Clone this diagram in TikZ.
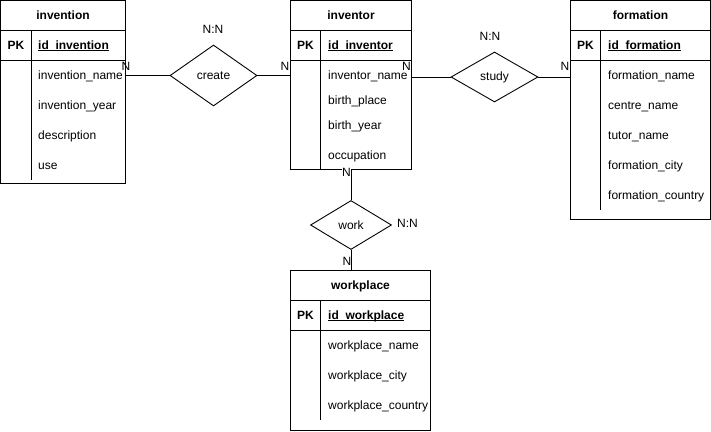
\documentclass[tikz,border=0pt]{standalone}
\usepackage{fontspec}
\setmainfont{Liberation Sans}
\usetikzlibrary{positioning,shapes.geometric}
\newcommand{\keyul}[1]{\setbox0=\hbox{#1}\rlap{\rule[-1.8pt]{\wd0}{0.9pt}}\box0}
\tikzset{
  tframe/.style = {draw=black, line width=0.9pt, inner sep=0pt},
  ttitle/.style = {font=\fontsize{12}{14}\selectfont\bfseries, anchor=base, inner sep=0pt},
  pkey/.style   = {ttitle},
  attr/.style   = {font=\fontsize{12}{14}\selectfont, anchor=base west, inner sep=0pt},
  attrkey/.style = {attr, font=\fontsize{12}{14}\selectfont\bfseries},
  rel/.style    = {diamond, draw=black, line width=0.9pt, inner sep=0pt,
                   font=\fontsize{12}{14}\selectfont},
  card/.style   = {font=\fontsize{12}{14}\selectfont, inner sep=0.5pt},
  rule/.style   = {draw=black, line width=0.9pt},
  link/.style   = {draw=black, line width=0.9pt},
}

\begin{document}
\begin{tikzpicture}[x=1pt, y=-1pt]
  \useasboundingbox (0,0) rectangle (711,431);

    % invention
    \node[tframe, minimum width=125pt, minimum height=183pt] (invention) at (63,92) {};
    \draw[rule] (0.5,30.5) -- (125.5,30.5);
    \draw[rule] (0.5,60.5) -- (125.5,60.5);
    \draw[rule] (31.5,30.5) -- (31.5,180);
    \node[ttitle] (inventiont) at (63,19.3) {invention};
    \node[pkey] (inventionpk) at (16,49.3) {PK};
    \node[attrkey] (invid) at (38,49.3) {\keyul{id\_invention}};
    \node[attr] (invname) at (38,79.3)  {invention\_name};
    \node[attr] (invyear) at (38,109.3) {invention\_year};
    \node[attr] (invdesc) at (38,139.3) {description};
    \node[attr] (invuse)  at (38,169.3) {use};

    % inventor
    \node[tframe, minimum width=121pt, minimum height=169pt] (inventor) at (351,85) {};
    \draw[rule] (290.5,30.5) -- (411.5,30.5);
    \draw[rule] (290.5,60.5) -- (411.5,60.5);
    \draw[rule] (320.5,30.5) -- (320.5,169.5);
    \node[ttitle] (inventort) at (351,19.3) {inventor};
    \node[pkey] (inventorpk) at (305.5,49.3) {PK};
    \node[attrkey] (ivtid) at (328,49.3) {\keyul{id\_inventor}};
    \node[attr] (ivtname)  at (328,79.3)  {inventor\_name};
    \node[attr] (ivtplace) at (328,104.3) {birth\_place};
    \node[attr] (ivtyear)  at (328,129.3) {birth\_year};
    \node[attr] (ivtjob)   at (328,159.3) {occupation};

    % formation
    \node[tframe, minimum width=140pt, minimum height=219pt] (formation) at (640.5,110) {};
    \draw[rule] (570.5,30.5) -- (710.5,30.5);
    \draw[rule] (570.5,60.5) -- (710.5,60.5);
    \draw[rule] (600.5,30.5) -- (600.5,210);
    \node[ttitle] (formationt) at (640.5,19.3) {formation};
    \node[pkey] (formationpk) at (585.5,49.3) {PK};
    \node[attrkey] (frmid) at (608,49.3) {\keyul{id\_formation}};
    \node[attr] (frmname)    at (608,79.3)  {formation\_name};
    \node[attr] (frmcentre)  at (608,109.3) {centre\_name};
    \node[attr] (frmtutor)   at (608,139.3) {tutor\_name};
    \node[attr] (frmcity)    at (608,169.3) {formation\_city};
    \node[attr] (frmcountry) at (608,199.3) {formation\_country};

    % workplace
    \node[tframe, minimum width=140pt, minimum height=160pt] (workplace) at (360.5,350.5) {};
    \draw[rule] (290.5,300.5) -- (430.5,300.5);
    \draw[rule] (290.5,330.5) -- (430.5,330.5);
    \draw[rule] (320.5,300.5) -- (320.5,420);
    \node[ttitle] (workplacet) at (360.5,289.3) {workplace};
    \node[pkey] (workplacepk) at (305.5,319.3) {PK};
    \node[attrkey] (wrkid) at (328,319.3) {\keyul{id\_workplace}};
    \node[attr] (wrkname)    at (328,349.3) {workplace\_name};
    \node[attr] (wrkcity)    at (328,379.3) {workplace\_city};
    \node[attr] (wrkcountry) at (328,409.3) {workplace\_country};

    % relations
    \node[rel, minimum width=87pt, minimum height=61pt] (create) at (213.5,75.5) {create};
    \node[rel, minimum width=87pt, minimum height=50pt] (study) at (494.5,77) {study};
    \node[rel, minimum width=81pt, minimum height=49pt] (work) at (351,225) {work};

    \draw[link] (invention.east |- create.west) -- (create.west);
    \draw[link] (create.east) -- (inventor.west |- create.east);
    \draw[link] (inventor.east |- study.west) -- (study.west);
    \draw[link] (study.east) -- (formation.west |- study.east);
    \draw[link] (inventor.south) -- (work.north);
    \draw[link] (work.south) -- (work.south |- workplace.north);

    % cardinalities
    \node[card] (createnn) at (213,29.3) {N:N};
    \node[card] (studynn)  at (490,36)   {N:N};
    \node[card] (worknn)   at (407.5,223.5) {N:N};
    \node[card] (n1) at (126,66.7) {N};
    \node[card] (n2) at (285,66.7) {N};
    \node[card] (n3) at (406.5,66.7) {N};
    \node[card] (n4) at (565,66.7) {N};
    \node[card, fill=white] (n5) at (346.5,172.3) {N};
    \node[card] (n6) at (347,261.5) {N};
  \end{tikzpicture}
\end{document}
